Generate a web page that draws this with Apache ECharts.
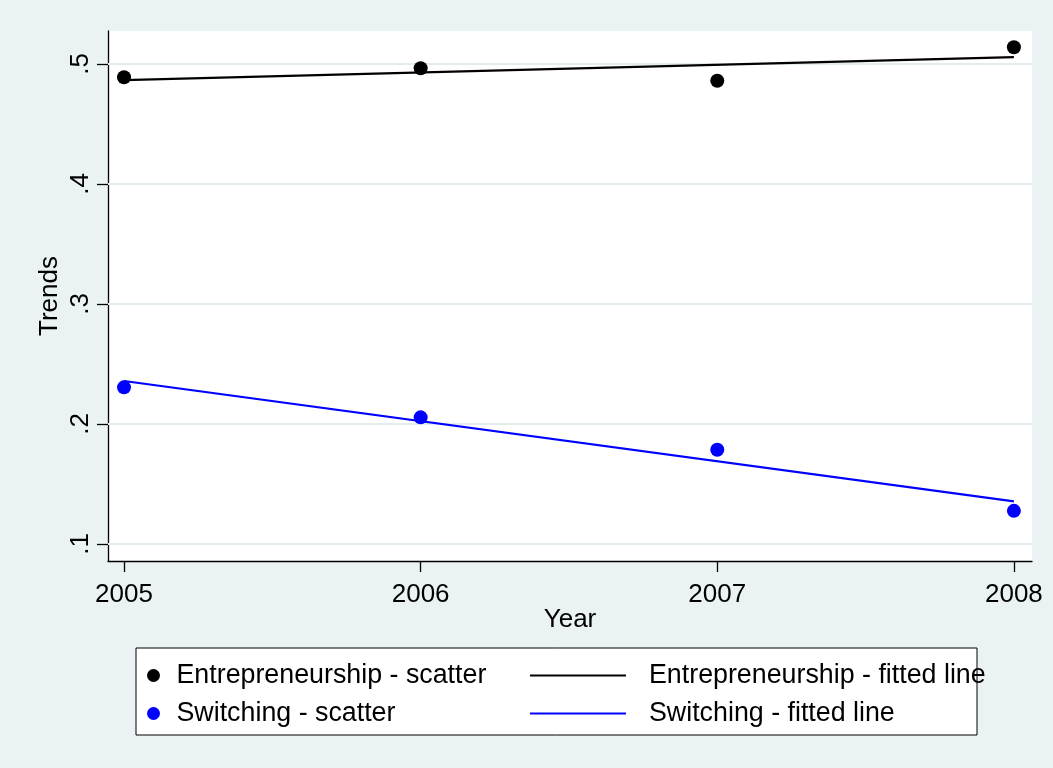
<!DOCTYPE html>
<html>
<head>
<meta charset="utf-8">
<script src="https://cdn.jsdelivr.net/npm/echarts@6/dist/echarts.min.js"></script>
<style>
  html, body { margin: 0; padding: 0; background: #EAF2F3; }
  #chart { width: 1053px; height: 768px; }
</style>
</head>
<body>
<div id="chart"></div>
<script>
// Observed yearly shares
const years = [2005, 2006, 2007, 2008];
const entrepreneurship = [0.4889, 0.4964, 0.4861, 0.5139];
const switching = [0.2305, 0.2055, 0.1785, 0.1276];

// Linear fits, evaluated at the ends of the period
const fitYears = [2005, 2008];
const entrepreneurshipFit = [0.4865, 0.5057];
const switchingFit = [0.2358, 0.1355];

// Tick positions
const yTicks = [0.1, 0.2, 0.3, 0.4, 0.5];
const xTicks = [2005, 2006, 2007, 2008];

const FONT = '"Liberation Sans", Arial, sans-serif';
const GRID_COLOR = '#E3ECEE';

const pairs = (xs, ys) => xs.map((x, i) => [x, ys[i]]);

const chart = echarts.init(document.getElementById('chart'), null, { renderer: 'canvas' });

chart.setOption({
  animation: false,
  backgroundColor: '#EAF2F3',
  textStyle: { fontFamily: FONT },
  grid: {
    left: 108, right: 21, top: 31, bottom: 207,
    show: true, backgroundColor: '#FFFFFF', borderWidth: 0,
    outerBoundsMode: 'none'
  },
  xAxis: {
    type: 'value',
    min: 2004.946, max: 2008.061,
    name: 'Year', nameLocation: 'middle', nameGap: 46, nameMoveOverlap: false,
    nameTextStyle: { fontSize: 26, color: '#000', fontFamily: FONT },
    axisLine: { show: true, lineStyle: { color: '#000', width: 1.3 } },
    axisTick: { show: true, length: 11, customValues: xTicks, lineStyle: { color: '#000', width: 1.3 } },
    axisLabel: {
      customValues: xTicks, margin: 21, fontSize: 26, color: '#000', fontFamily: FONT,
      formatter: v => String(Math.round(v))
    },
    splitLine: { show: false }
  },
  yAxis: {
    type: 'value',
    min: 0.0858, max: 0.5275,
    name: 'Trends', nameLocation: 'middle', nameGap: 45, nameMoveOverlap: false,
    nameTextStyle: { fontSize: 26, color: '#000', fontFamily: FONT },
    axisLine: { show: true, lineStyle: { color: '#000', width: 1.3 } },
    axisTick: { show: true, length: 11, customValues: yTicks, lineStyle: { color: '#000', width: 1.3 } },
    axisLabel: {
      customValues: yTicks, rotate: 90, margin: 14, fontSize: 26, color: '#000', fontFamily: FONT,
      formatter: v => '.' + Math.round(v * 10)
    },
    splitLine: { show: false }
  },
  legend: [
    {
      data: ['Entrepreneurship - scatter', 'Switching - scatter'],
      orient: 'vertical', left: 142, top: 657,
      itemWidth: 36, itemHeight: 13, itemGap: 11,
      icon: 'circle',
      textStyle: { fontSize: 26.8, lineHeight: 26, color: '#000', fontFamily: FONT }
    },
    {
      data: ['Entrepreneurship - fitted line', 'Switching - fitted line'],
      orient: 'vertical', left: 525, top: 657,
      itemWidth: 96, itemHeight: 2.2, itemGap: 11,
      icon: 'rect',
      textStyle: { fontSize: 26.8, lineHeight: 26, color: '#000', fontFamily: FONT, padding: [0, 0, 0, 18] }
    }
  ],
  graphic: [
    {
      type: 'rect', z: -1,
      shape: { x: 136, y: 648, width: 841, height: 87 },
      style: { fill: '#FFFFFF', stroke: '#000', lineWidth: 1 }
    }
  ],
  series: [
    {
      name: 'Entrepreneurship - fitted line',
      type: 'line',
      data: pairs(fitYears, entrepreneurshipFit),
      symbol: 'none',
      lineStyle: { color: '#000', width: 2.2 },
      itemStyle: { color: '#000' },
      z: 2,
      markLine: {
        silent: true, z: 1,
        symbol: ['none', 'none'],
        label: { show: false },
        lineStyle: { color: GRID_COLOR, width: 2, type: 'solid' },
        data: yTicks.map(v => ({ yAxis: v }))
      }
    },
    {
      name: 'Switching - fitted line',
      type: 'line',
      data: pairs(fitYears, switchingFit),
      symbol: 'none',
      lineStyle: { color: '#0000FF', width: 2.2 },
      itemStyle: { color: '#0000FF' },
      z: 2
    },
    {
      name: 'Entrepreneurship - scatter',
      type: 'scatter',
      data: pairs(years, entrepreneurship),
      symbol: 'circle', symbolSize: 14,
      itemStyle: { color: '#000', opacity: 1 },
      z: 3
    },
    {
      name: 'Switching - scatter',
      type: 'scatter',
      data: pairs(years, switching),
      symbol: 'circle', symbolSize: 14,
      itemStyle: { color: '#0000FF', opacity: 1 },
      z: 3
    }
  ]
});
</script>
</body>
</html>
